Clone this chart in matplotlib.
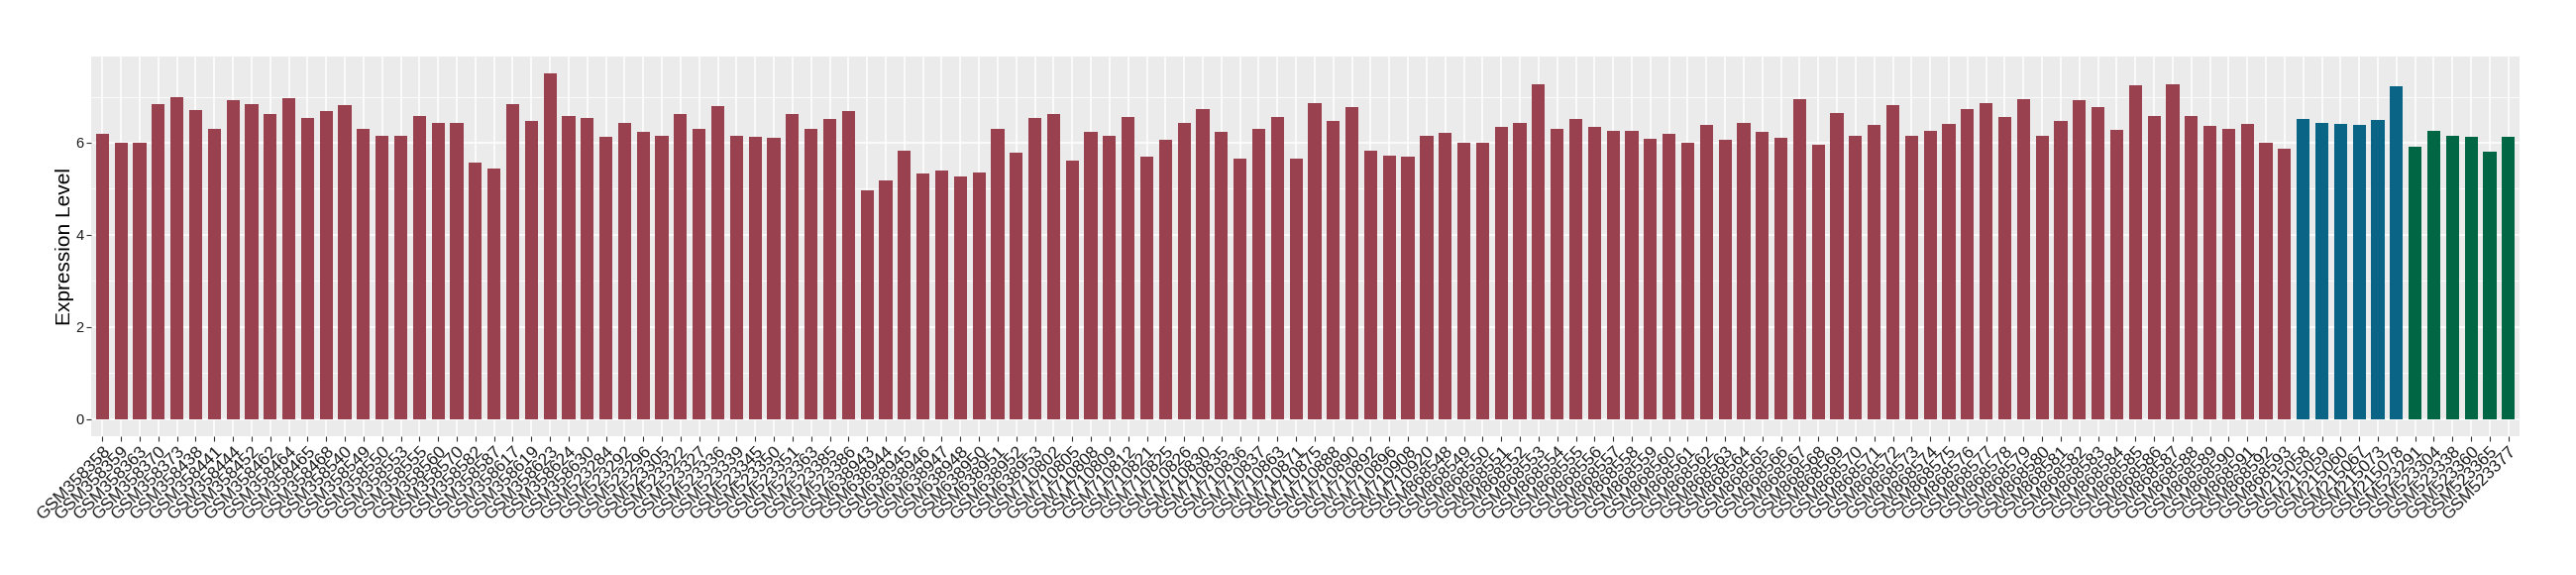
import matplotlib
matplotlib.use("Agg")
import matplotlib.pyplot as plt
from matplotlib.ticker import MultipleLocator

plt.rcParams['font.family'] = ['Liberation Sans', 'DejaVu Sans']

# amostras do grupo 1 (vermelho)
amostras_g1 = [
    "GSM358358", "GSM358359", "GSM358363", "GSM358370", "GSM358373", "GSM358438",
    "GSM358441", "GSM358444", "GSM358452", "GSM358462", "GSM358464", "GSM358465",
    "GSM358468", "GSM358540", "GSM358549", "GSM358550", "GSM358553", "GSM358555",
    "GSM358560", "GSM358570", "GSM358582", "GSM358587", "GSM358617", "GSM358619",
    "GSM358623", "GSM358624", "GSM358630", "GSM523284", "GSM523292", "GSM523296",
    "GSM523305", "GSM523322", "GSM523327", "GSM523336", "GSM523339", "GSM523345",
    "GSM523350", "GSM523351", "GSM523363", "GSM523385", "GSM523386", "GSM638943",
    "GSM638944", "GSM638945", "GSM638946", "GSM638947", "GSM638948", "GSM638950",
    "GSM638951", "GSM638952", "GSM638953", "GSM710802", "GSM710805", "GSM710808",
    "GSM710809", "GSM710812", "GSM710821", "GSM710825", "GSM710826", "GSM710830",
    "GSM710835", "GSM710836", "GSM710837", "GSM710863", "GSM710871", "GSM710875",
    "GSM710888", "GSM710890", "GSM710892", "GSM710896", "GSM710908", "GSM710920",
    "GSM868548", "GSM868549", "GSM868550", "GSM868551", "GSM868552", "GSM868553",
    "GSM868554", "GSM868555", "GSM868556", "GSM868557", "GSM868558", "GSM868559",
    "GSM868560", "GSM868561", "GSM868562", "GSM868563", "GSM868564", "GSM868565",
    "GSM868566", "GSM868567", "GSM868568", "GSM868569", "GSM868570", "GSM868571",
    "GSM868572", "GSM868573", "GSM868574", "GSM868575", "GSM868576", "GSM868577",
    "GSM868578", "GSM868579", "GSM868580", "GSM868581", "GSM868582", "GSM868583",
    "GSM868584", "GSM868585", "GSM868586", "GSM868587", "GSM868588", "GSM868589",
    "GSM868590", "GSM868591", "GSM868592", "GSM868593",
]
valores_g1 = [
    6.20, 5.99, 6.01, 6.83, 7.00, 6.72, 6.29, 6.92, 6.83, 6.62, 6.96, 6.53,
    6.68, 6.81, 6.29, 6.16, 6.16, 6.57, 6.42, 6.42, 5.56, 5.43, 6.83, 6.47,
    7.50, 6.57, 6.53, 6.12, 6.44, 6.23, 6.16, 6.62, 6.29, 6.79, 6.14, 6.12,
    6.10, 6.62, 6.29, 6.51, 6.68, 4.96, 5.18, 5.82, 5.33, 5.39, 5.26, 5.35,
    6.29, 5.78, 6.53, 6.62, 5.61, 6.23, 6.16, 6.55, 5.69, 6.06, 6.42, 6.74,
    6.23, 5.65, 6.31, 6.55, 5.65, 6.87, 6.47, 6.77, 5.82, 5.71, 5.69, 6.14,
    6.21, 6.01, 5.99, 6.34, 6.44, 7.26, 6.29, 6.51, 6.34, 6.25, 6.25, 6.08,
    6.19, 6.01, 6.38, 6.06, 6.42, 6.23, 6.10, 6.94, 5.95, 6.64, 6.14, 6.38,
    6.81, 6.16, 6.25, 6.40, 6.74, 6.87, 6.55, 6.94, 6.14, 6.47, 6.92, 6.77,
    6.27, 7.24, 6.57, 7.26, 6.57, 6.36, 6.29, 6.40, 6.01, 5.86,
]

# grupo 2 (azul)
amostras_g2 = ["GSM215058", "GSM215059", "GSM215060", "GSM215067", "GSM215073", "GSM215078"]
valores_g2 = [6.51, 6.42, 6.40, 6.38, 6.49, 7.22]

# grupo 3 (verde)
amostras_g3 = ["GSM523291", "GSM523304", "GSM523338", "GSM523360", "GSM523365", "GSM523377"]
valores_g3 = [5.91, 6.25, 6.14, 6.12, 5.80, 6.12]

cores_grupos = ["#9A4150", "#0A6486", "#006644"]

amostras = amostras_g1 + amostras_g2 + amostras_g3
valores = valores_g1 + valores_g2 + valores_g3
cores = ([cores_grupos[0]] * len(amostras_g1) + [cores_grupos[1]] * len(amostras_g2)
         + [cores_grupos[2]] * len(amostras_g3))

fig = plt.figure(figsize=(26, 5.8), dpi=100)
ax = fig.add_axes([0.0354, 0.241, 0.9427, 0.661])

posicoes = list(range(len(amostras)))
ax.bar(posicoes, valores, width=0.7, color=cores, zorder=3)

# estilo ggplot
ax.set_facecolor("#EBEBEB")
ax.set_xlim(-0.6, len(amostras) - 0.4)
ax.set_ylim(-0.375, 7.875)
ax.yaxis.set_major_locator(MultipleLocator(2))
ax.yaxis.set_minor_locator(MultipleLocator(1))
ax.grid(which="major", color="white", linewidth=1.1, zorder=0)
ax.grid(which="minor", axis="y", color="white", linewidth=0.55, zorder=0)
for s in ax.spines.values():
    s.set_visible(False)

ax.set_xticks(posicoes)
ax.set_xticklabels(amostras, rotation=45, ha="right", va="top",
                   rotation_mode="anchor", fontsize=12.5, color="#1A1A1A")
ax.tick_params(axis="both", which="major", length=3.5, width=0.8, color="#333333",
               labelsize=12.5, pad=2)
ax.tick_params(axis="y", which="minor", length=0)
ax.tick_params(axis="y", labelsize=10.5, labelcolor="#1A1A1A")
ax.set_ylabel("Expression Level", fontsize=15, labelpad=1)

fig.savefig("out.png", dpi=100, facecolor="white")
